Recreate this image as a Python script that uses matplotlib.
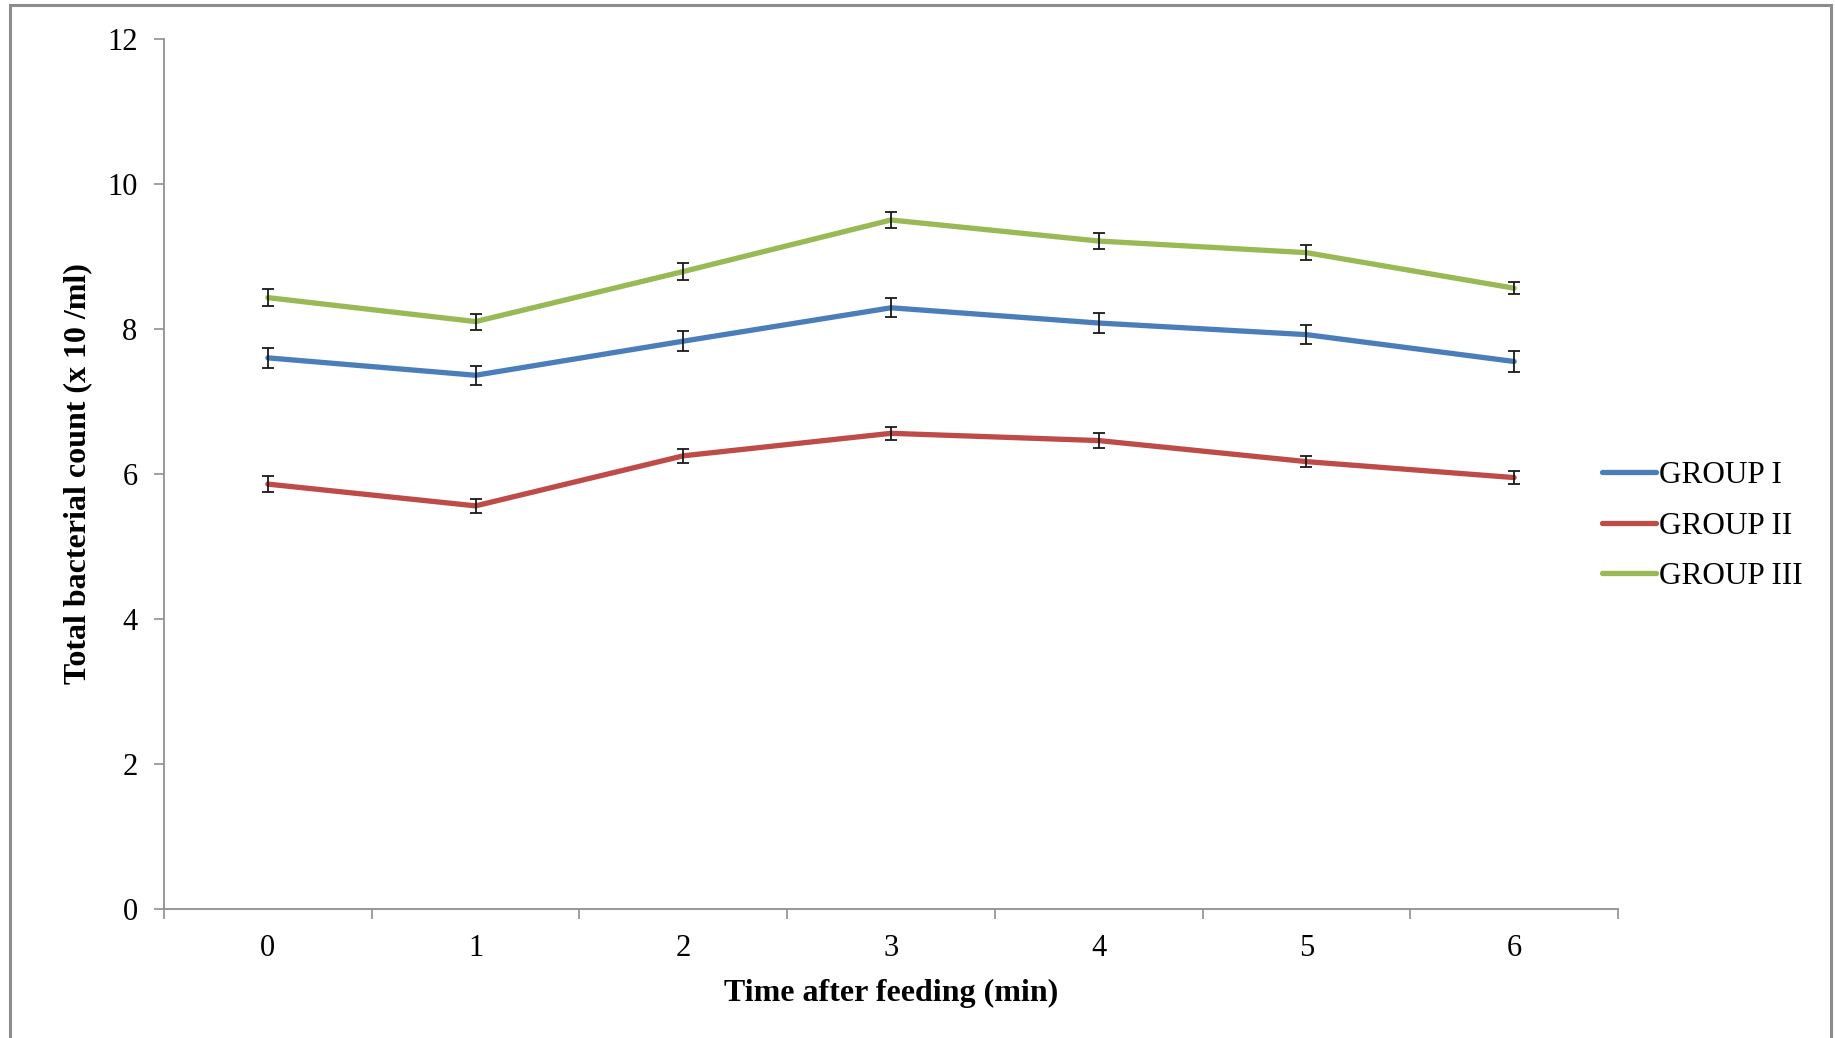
import matplotlib
matplotlib.use("Agg")
import matplotlib.pyplot as plt
from matplotlib.patches import Rectangle

times = [0, 1, 2, 3, 4, 5, 6]
group_names = ["GROUP I", "GROUP II", "GROUP III"]
group1 = [7.60, 7.36, 7.83, 8.29, 8.08, 7.92, 7.55]
group2 = [5.86, 5.56, 6.25, 6.56, 6.46, 6.17, 5.95]
group3 = [8.43, 8.10, 8.79, 9.50, 9.21, 9.05, 8.56]
err1 = [0.14, 0.13, 0.14, 0.13, 0.14, 0.13, 0.14]
err2 = [0.11, 0.10, 0.10, 0.09, 0.10, 0.08, 0.09]
err3 = [0.12, 0.11, 0.12, 0.11, 0.11, 0.10, 0.08]
colors = ["#4A7EBB", "#BE4B48", "#98B954"]
yticks = [0, 2, 4, 6, 8, 10, 12]

plt.rcParams['font.family'] = ['Liberation Serif', 'DejaVu Serif']

fig = plt.figure(figsize=(18.35, 10.38), dpi=100)
ax = fig.add_axes([164/1835, 1-909.3/1038, (1618-164)/1835, (909.3-38.6)/1038])

handles = []
for vals, errs, c, name in zip([group1, group2, group3], [err1, err2, err3], colors, group_names):
    ln, = ax.plot(times, vals, color=c, lw=3.8, label=name, zorder=2, solid_capstyle='round')
    ax.errorbar(times, vals, yerr=errs, fmt='none', ecolor='#1a1a1a', elinewidth=1.3,
                capsize=4.6, capthick=1.3, zorder=3)
    handles.append(ln)

ax.set_xlim(-0.5, 6.5)
ax.set_ylim(0, 12)
ax.set_yticks(yticks)
ax.set_xticks(times)
ax.set_xticks([t - 0.5 for t in times] + [6.5], minor=True)
ax.tick_params(axis='x', which='major', length=0, pad=18, labelsize=22)
ax.tick_params(axis='x', which='minor', length=7, width=1.2, color='#909090', direction='out')
ax.tick_params(axis='y', length=7, width=1.2, color='#909090', direction='out', labelsize=22, pad=12)
for s in ['top', 'right']:
    ax.spines[s].set_visible(False)
for s in ['left', 'bottom']:
    ax.spines[s].set_color('#909090')
    ax.spines[s].set_linewidth(1.3)

ax.set_xlabel("Time after feeding (min)", fontsize=23, fontweight='bold', labelpad=11)
ax.set_ylabel("Total bacterial count (x 10 /ml)", fontsize=23, fontweight='bold', labelpad=11)

fig.legend(handles=handles, labels=group_names, loc='center left',
           bbox_to_anchor=(1589/1835, 1-526/1038), frameon=False, fontsize=22.5,
           handlelength=1.75, handletextpad=0.1, labelspacing=0.68, borderaxespad=0)

fig.patches.append(Rectangle((10/1835, -0.01), (1831-10)/1835, 1.01 - 5/1038,
                             transform=fig.transFigure, fill=False, edgecolor='#8c8c8c', lw=2.2))

fig.savefig("out.png", dpi=100)
